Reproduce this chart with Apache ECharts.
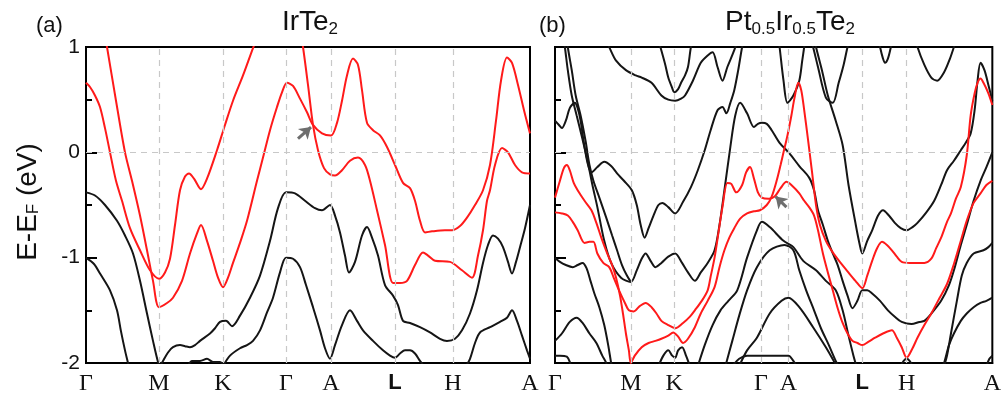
<!DOCTYPE html>
<html>
<head>
<meta charset="utf-8">
<script src="https://cdn.jsdelivr.net/npm/echarts@6/dist/echarts.min.js"></script>
<style>
  html, body { margin: 0; padding: 0; background: #fff; }
  #chart { width: 1004px; height: 401px; }
</style>
</head>
<body>
<div id="chart"></div>
<script>
// k-path positions (arbitrary path units) and labels
const kLabels = ["Γ", "M", "K", "Γ", "A", "L", "H", "A"];
const kPosA = [0, 73, 137, 200, 245, 309, 367, 444];
const kPosB = [0, 77, 121, 209, 237, 312, 357, 444];
const yTicks = [-2, -1, 0, 1];

// ---- (a) IrTe2 bands, [k, E-EF] ----
const irRed1 = [[0,0.66],[4,0.62],[9,0.54],[14,0.43],[19,0.23],[24,0.0],[30,-0.27],[36,-0.46],[44,-0.72],[54,-0.93],[64,-1.12],[73,-1.20],[79,-1.14],[84,-1.01],[89,-0.69],[94,-0.36],[99,-0.23],[103,-0.20],[108,-0.25],[115,-0.35],[121,-0.25],[131,0.02],[139,0.26],[147,0.49],[157,0.73],[167,0.99],[174,1.16]];
const irRed2 = [[18,1.16],[21,1.0],[30,0.49],[39,0.0],[46,-0.27],[54,-0.60],[61,-0.93],[67,-1.22],[73,-1.47],[81,-1.43],[87,-1.38],[96,-1.22],[104,-0.96],[111,-0.77],[115,-0.69],[121,-0.84],[127,-1.03],[132,-1.19],[137,-1.28],[142,-1.19],[147,-1.05],[154,-0.86],[161,-0.65],[171,-0.27],[177,-0.05],[184,0.21],[191,0.43],[196,0.57],[201,0.66],[207,0.63],[214,0.51],[221,0.38],[227,0.26],[236,0.18],[245,0.16],[251,0.28],[256,0.49],[261,0.73],[267,0.89],[272,0.83],[276,0.59],[281,0.28],[287,0.21],[294,0.16],[301,0.05],[309,-0.12],[317,-0.29],[324,-0.34],[329,-0.46],[334,-0.65],[339,-0.76],[346,-0.75],[359,-0.74],[366,-0.74],[374,-0.70],[381,-0.62],[389,-0.50],[397,-0.36],[404,-0.12],[410,0.30],[415,0.68],[421,0.90],[426,0.85],[432,0.64],[438,0.40],[444,0.18]];
const irRed3 = [[214,1.16],[217,1.0],[222,0.64],[227,0.26],[232,0.02],[238,-0.15],[244,-0.21],[249,-0.22],[256,-0.17],[264,-0.08],[272,-0.05],[279,-0.12],[284,-0.27],[291,-0.55],[299,-0.88],[307,-1.24],[314,-1.24],[321,-1.22],[329,-1.07],[337,-0.95],[342,-0.98],[349,-1.03],[364,-1.04],[376,-1.12],[386,-1.19],[392,-0.98],[397,-0.74],[401,-0.46],[404,-0.36],[409,-0.12],[416,0.04],[422,0.0],[429,-0.12],[436,-0.19],[444,-0.20]];
const irBlack1 = [[0,-0.38],[9,-0.41],[19,-0.50],[31,-0.65],[39,-0.79],[47,-0.96],[54,-1.22],[61,-1.53],[67,-1.79],[72,-1.99],[74,-2.03],[77,-1.98],[82,-1.90],[87,-1.85],[94,-1.83],[99,-1.84],[104,-1.85],[109,-1.83],[114,-1.79],[124,-1.72],[129,-1.67],[134,-1.61],[140,-1.60],[146,-1.65],[154,-1.55],[164,-1.38],[174,-1.17],[184,-0.84],[192,-0.53],[200,-0.38],[209,-0.39],[219,-0.46],[229,-0.53],[236,-0.55],[244,-0.50],[249,-0.60],[254,-0.76],[259,-0.98],[263,-1.14],[269,-1.04],[276,-0.79],[281,-0.71],[286,-0.81],[292,-0.98],[299,-1.26],[307,-1.36],[312,-1.45],[317,-1.60],[324,-1.62],[334,-1.66],[344,-1.71],[354,-1.77],[361,-1.79],[369,-1.77],[376,-1.69],[384,-1.53],[391,-1.31],[397,-1.05],[402,-0.88],[407,-0.79],[412,-0.82],[417,-0.90],[422,-1.04],[426,-1.15],[430,-1.04],[434,-0.90],[439,-0.72],[444,-0.50]];
const irBlack2 = [[0,-1.0],[8,-1.06],[14,-1.15],[24,-1.31],[31,-1.50],[35,-1.70],[39,-1.88],[42,-2.0],[44,-2.08]];
const irBlack3 = [[102,-2.03],[106,-1.98],[114,-1.98],[121,-1.96],[127,-1.99],[134,-1.99],[138,-2.03]];
const irBlack4 = [[137,-2.03],[144,-1.93],[154,-1.86],[161,-1.83],[167,-1.79],[174,-1.69],[181,-1.52],[187,-1.38],[194,-1.14],[200,-1.0],[207,-1.01],[214,-1.09],[220,-1.26],[227,-1.47],[234,-1.69],[239,-1.86],[244,-1.96],[249,-1.83],[256,-1.64],[264,-1.50],[271,-1.60],[277,-1.69],[287,-1.79],[297,-1.88],[304,-1.93],[309,-1.95],[314,-1.91],[319,-1.88],[324,-1.88],[329,-1.91],[334,-1.98],[338,-2.03]];
const irBlack5 = [[380,-2.03],[384,-1.96],[389,-1.81],[394,-1.71],[404,-1.66],[414,-1.61],[421,-1.57],[426,-1.50],[431,-1.60],[436,-1.74],[441,-1.88],[444,-1.96]];

// ---- (b) Pt0.5Ir0.5Te2 bands, [k, E-EF] ----
const ptRed1 = [[0,-0.57],[7,-0.58],[13,-0.60],[18,-0.66],[23,-0.74],[30,-0.86],[35,-0.85],[39,-0.85],[43,-0.96],[49,-1.05],[55,-1.09],[60,-1.20],[65,-1.31],[71,-1.43],[75,-1.50],[80,-1.51],[86,-1.46],[92,-1.43],[98,-1.47],[103,-1.53],[108,-1.60],[115,-1.64],[122,-1.67],[130,-1.62],[137,-1.56],[142,-1.50],[149,-1.41],[155,-1.31],[158,-1.18],[162,-1.0],[166,-0.76],[170,-0.52],[175,-0.29],[179,-0.30],[184,-0.38],[190,-0.31],[194,-0.19],[198,-0.14],[202,-0.25],[206,-0.38],[210,-0.43],[217,-0.44],[223,-0.42],[229,-0.34],[235,-0.28],[241,-0.32],[248,-0.39],[253,-0.46],[258,-0.52],[263,-0.60],[267,-0.74],[272,-0.96],[277,-1.14],[282,-1.31],[287,-1.48],[292,-1.62],[297,-1.72],[302,-1.79],[307,-1.81],[312,-1.83],[318,-1.80],[325,-1.76],[333,-1.72],[342,-1.69],[347,-1.76],[352,-1.85],[357,-1.95],[363,-1.86],[368,-1.76],[375,-1.64],[382,-1.53],[390,-1.39],[398,-1.25],[405,-1.06],[412,-0.84],[418,-0.65],[425,-0.48],[432,-0.39],[438,-0.31],[444,-0.27]];
const ptRed2 = [[0,-0.43],[5,-0.27],[9,-0.15],[12,-0.12],[15,-0.17],[19,-0.29],[23,-0.36],[30,-0.46],[37,-0.55],[42,-0.67],[47,-0.81],[53,-0.96],[58,-1.07],[62,-1.19],[66,-1.36],[69,-1.53],[72,-1.72],[75,-1.88],[77,-2.0],[81,-1.93],[88,-1.85],[95,-1.81],[102,-1.79],[108,-1.77],[115,-1.74],[120,-1.71],[125,-1.75],[130,-1.81],[135,-1.77],[142,-1.66],[148,-1.53],[155,-1.41],[162,-1.28],[167,-1.09],[172,-0.93],[177,-0.81],[182,-0.72],[188,-0.63],[195,-0.58],[202,-0.56],[208,-0.55],[215,-0.50],[220,-0.42],[225,-0.27],[229,-0.12],[232,0.0],[236,0.16],[240,0.35],[243,0.51],[247,0.66],[250,0.59],[253,0.40],[257,0.11],[261,-0.19],[265,-0.50],[269,-0.69],[275,-0.84],[282,-0.95],[290,-1.05],[297,-1.13],[305,-1.22],[312,-1.29],[317,-1.17],[322,-1.03],[327,-0.91],[332,-0.85],[337,-0.88],[342,-0.93],[347,-0.99],[352,-1.04],[360,-1.05],[367,-1.05],[375,-1.05],[382,-1.01],[387,-0.91],[392,-0.81],[398,-0.66],[402,-0.58],[407,-0.44],[412,-0.33],[418,-0.03],[422,0.35],[426,0.56],[429,0.66],[432,0.70],[435,0.66],[440,0.56],[444,0.45]];
const ptBlack1 = [[0,0.30],[4,0.26],[7,0.23],[11,0.30],[15,0.42],[20,0.47],[23,0.42],[26,0.30],[29,0.11],[33,-0.10],[37,-0.19],[43,-0.14],[50,-0.09],[57,-0.13],[63,-0.20],[70,-0.27],[78,-0.36],[83,-0.50],[87,-0.69],[91,-0.81],[95,-0.72],[100,-0.60],[105,-0.50],[109,-0.48],[115,-0.52],[122,-0.58],[130,-0.47],[138,-0.33],[145,-0.17],[152,0.02],[158,0.21],[165,0.40],[170,0.43],[174,0.37],[178,0.47],[182,0.59],[186,0.78],[190,1.0],[193,1.11]];
const ptBlack2 = [[8,1.11],[10,1.0],[13,0.78],[17,0.54],[22,0.35],[27,0.16],[33,-0.08],[38,-0.31],[43,-0.52],[50,-0.84],[57,-1.05],[67,-1.19],[77,-1.23],[83,-1.12],[88,-1.01],[92,-0.96],[97,-1.03],[102,-1.09],[108,-1.05],[115,-0.99],[122,-0.96],[129,-1.05],[135,-1.14],[142,-1.22],[148,-1.14],[155,-1.05],[162,-0.93],[167,-0.69],[172,-0.36],[178,0.05],[183,0.35],[188,0.47],[195,0.37],[202,0.24],[206,0.27],[210,0.28],[215,0.27],[220,0.21],[228,0.09],[238,-0.01],[248,-0.13],[258,-0.24],[263,-0.36],[267,-0.55],[272,-0.69],[277,-0.84],[282,-0.96],[287,-1.07],[292,-1.22],[297,-1.36],[302,-1.48],[307,-1.41],[312,-1.31],[317,-1.31],[322,-1.34],[330,-1.41],[338,-1.50],[345,-1.56],[352,-1.61],[362,-1.63],[370,-1.61],[375,-1.60],[383,-1.52],[392,-1.41],[400,-1.26],[405,-1.12],[412,-0.88],[418,-0.69],[425,-0.46],[432,-0.27],[438,-0.14],[444,0.0]];
const ptBlack3 = [[12,1.11],[13,1.0],[17,0.78],[21,0.54],[26,0.35],[31,0.11],[35,-0.12],[39,-0.27],[45,-0.43],[52,-0.62],[58,-0.79],[63,-0.93],[68,-1.07],[73,-1.17],[77,-1.23]];
const ptBlack4 = [[0,-1.0],[5,-1.04],[11,-1.07],[18,-1.09],[23,-1.07],[28,-1.05],[32,-1.10],[36,-1.22],[40,-1.34],[45,-1.47],[50,-1.64],[54,-1.83],[57,-2.0],[59,-2.09]];
const ptBlack5 = [[0,-1.79],[7,-1.72],[15,-1.61],[22,-1.57],[28,-1.62],[35,-1.72],[42,-1.81],[48,-1.93],[52,-2.0],[54,-2.07]];
const ptBlack6 = [[0,-1.93],[5,-1.93],[12,-1.94],[15,-1.99],[17,-2.07]];
const ptBlack7 = [[52,1.06],[55,1.0],[62,0.87],[72,0.78],[82,0.73],[88,0.71],[98,0.66],[108,0.54],[115,0.50],[122,0.49],[128,0.51],[132,0.54],[140,0.68],[148,0.85],[155,0.92],[160,0.95],[165,0.81],[170,0.68],[175,0.81],[182,0.97],[185,1.06]];
const ptBlack8 = [[105,1.06],[107,1.0],[112,0.83],[115,0.71],[119,0.61],[121,0.57],[125,0.60],[128,0.66],[132,0.73],[135,0.81],[138,1.0],[140,1.06]];
const ptBlack9 = [[105,-2.03],[110,-1.93],[115,-1.88],[119,-1.93],[122,-1.95],[125,-1.88],[129,-1.85],[133,-1.93],[137,-2.03]];
const ptBlack10 = [[173,-2.03],[180,-1.79],[187,-1.55],[195,-1.31],[205,-1.09],[218,-0.93],[233,-0.88],[242,-0.93],[248,-1.12],[255,-1.31],[263,-1.50],[270,-1.67],[278,-1.83],[285,-1.98],[288,-2.03]];
const ptBlack11 = [[145,-2.03],[152,-1.83],[160,-1.64],[168,-1.50],[176,-1.41],[185,-1.31],[195,-1.0],[205,-0.74],[210,-0.66],[218,-0.71],[232,-0.84],[242,-0.90],[252,-1.03],[265,-1.12],[275,-1.22],[285,-1.31],[292,-1.50],[298,-1.74],[303,-1.93],[306,-2.03]];
const ptBlack12 = [[187,-2.03],[195,-1.88],[205,-1.76],[218,-1.53],[230,-1.41],[237,-1.38],[248,-1.47],[262,-1.66],[275,-1.85],[283,-1.98],[286,-2.03]];
const ptBlack13 = [[180,-2.03],[187,-1.96],[195,-1.93],[215,-1.93],[237,-1.93],[242,-1.98],[245,-2.03]];
const ptBlack14 = [[227,1.06],[228,1.0],[232,0.68],[236,0.47],[242,0.54],[248,0.68],[251,0.87],[253,1.0],[254,1.06]];
const ptBlack15 = [[260,1.06],[262,1.0],[267,0.81],[275,0.52],[282,0.47],[288,0.66],[293,0.83],[297,1.0],[299,1.06]];
const ptBlack16 = [[264,1.06],[265,1.0],[271,0.78],[277,0.54],[285,0.30],[292,0.07],[298,-0.31],[305,-0.67],[309,-0.86],[312,-0.96],[317,-0.84],[322,-0.74],[328,-0.60],[333,-0.55],[339,-0.60],[345,-0.67],[351,-0.72],[357,-0.74],[363,-0.71],[368,-0.67],[377,-0.57],[385,-0.46],[392,-0.31],[398,-0.17],[405,-0.08],[412,0.02],[417,0.09],[422,0.18],[426,0.40],[429,0.68],[432,0.85],[436,0.78],[440,0.64],[444,0.49]];
const ptBlack17 = [[329,1.06],[330,1.0],[333,0.89],[335,0.85],[338,0.89],[341,1.0],[342,1.06]];
const ptBlack18 = [[367,1.06],[368,1.0],[375,0.83],[382,0.71],[388,0.68],[395,0.76],[401,0.89],[405,1.0],[407,1.06]];
const ptBlack19 = [[393,-2.03],[395,-2.0],[400,-1.83],[405,-1.72],[412,-1.60],[418,-1.53],[425,-1.47],[432,-1.43],[438,-1.41],[444,-1.38]];
const ptBlack20 = [[395,-2.03],[398,-1.93],[402,-1.72],[408,-1.41],[413,-1.17],[418,-1.05],[425,-0.96],[435,-0.93],[440,-0.90],[444,-0.86]];
const ptBlack21 = [[438,-2.03],[441,-1.96],[444,-1.93]];
const ptBlack22 = [[351,-2.03],[354,-1.98],[357,-1.96],[360,-1.98],[363,-2.03]];

// arrows pointing at band crossings: [tail, tip]
const arrowA = [[212, 0.13], [225, 0.24]];
const arrowB = [[235, -0.52], [224, -0.42]];

const irRed = [irRed1, irRed2, irRed3];
const irBlack = [irBlack1, irBlack2, irBlack3, irBlack4, irBlack5];
const ptRed = [ptRed1, ptRed2];
const ptBlack = [ptBlack1, ptBlack2, ptBlack3, ptBlack4, ptBlack5, ptBlack6, ptBlack7, ptBlack8, ptBlack9, ptBlack10, ptBlack11,
  ptBlack12, ptBlack13, ptBlack14, ptBlack15, ptBlack16, ptBlack17, ptBlack18, ptBlack19, ptBlack20, ptBlack21, ptBlack22];

const RED = "#ff1a1a";
const BLACK = "#151515";

const chart = echarts.init(document.getElementById("chart"));

function band(data, color, gi) {
  return {
    type: "line",
    xAxisIndex: gi,
    yAxisIndex: gi,
    data: data,
    smooth: 0.3,
    showSymbol: false,
    symbol: "none",
    silent: true,
    clip: true,
    z: color === RED ? 4 : 3,
    lineStyle: { color: color, width: 2 },
  };
}

// dashed guide lines at the high-symmetry points and at E_F, plus the arrow
function guides(gi, kPos, arrow) {
  const inner = kPos.slice(1, -1).map((v) => ({ xAxis: v }));
  return [
    {
      type: "line",
      xAxisIndex: gi,
      yAxisIndex: gi,
      data: [],
      z: 1,
      markLine: {
        silent: true,
        symbol: ["none", "none"],
        label: { show: false },
        lineStyle: { color: "#c8c8c8", type: [6, 5], width: 1.2 },
        data: inner.concat([{ yAxis: 0 }]),
      },
    },
    {
      type: "line",
      xAxisIndex: gi,
      yAxisIndex: gi,
      data: [],
      z: 6,
      markLine: {
        silent: true,
        symbol: ["none", "arrow"],
        symbolSize: [11, 11],
        label: { show: false },
        lineStyle: { color: "#6e6e6e", type: "solid", width: 3 },
        data: [[{ coord: arrow[0] }, { coord: arrow[1] }]],
      },
    },
  ];
}

function xAxis(gi, kPos) {
  return {
    gridIndex: gi,
    type: "value",
    min: 0,
    max: 444,
    axisLine: { show: true, onZero: false, lineStyle: { color: "#000", width: 2 } },
    axisTick: { show: false },
    splitLine: { show: false },
    axisLabel: {
      customValues: kPos,
      margin: 9,
      formatter: (v) => {
        const t = kLabels[kPos.indexOf(v)];
        return t === "L" ? "{l|L}" : "{g|" + t + "}";
      },
      rich: {
        g: { fontFamily: "Liberation Serif", fontSize: 24, color: "#111" },
        l: { fontFamily: "Liberation Sans", fontWeight: "bold", fontSize: 22, color: "#111" },
      },
    },
  };
}

function yAxis(gi, showLabels) {
  return {
    gridIndex: gi,
    type: "value",
    min: yTicks[0],
    max: yTicks[yTicks.length - 1],
    interval: 1,
    axisLine: { show: true, onZero: false, lineStyle: { color: "#000", width: 2 } },
    axisTick: { show: true, inside: true, length: 11, lineStyle: { color: "#000", width: 2 } },
    minorTick: { show: true, splitNumber: 2, length: 6, lineStyle: { color: "#000", width: 2 } },
    splitLine: { show: false },
    axisLabel: {
      show: showLabels,
      margin: 6,
      fontFamily: "Liberation Sans",
      fontSize: 21,
      color: "#111",
    },
  };
}

const series = []
  .concat(guides(0, kPosA, arrowA))
  .concat(guides(1, kPosB, arrowB))
  .concat(irBlack.map((d) => band(d, BLACK, 0)))
  .concat(irRed.map((d) => band(d, RED, 0)))
  .concat(ptBlack.map((d) => band(d, BLACK, 1)))
  .concat(ptRed.map((d) => band(d, RED, 1)));

const textSans = "Liberation Sans";
const titleRich = {
  m: { fontFamily: textSans, fontSize: 28, fill: "#111", verticalAlign: "bottom" },
  s: { fontFamily: textSans, fontSize: 17, fill: "#111", verticalAlign: "bottom", padding: [0, 0, -2, 0] },
};

const option = {
  backgroundColor: "#fff",
  animation: false,
  grid: [
    { left: 86, top: 47, width: 444, height: 316, show: true, borderColor: "#000", borderWidth: 2, backgroundColor: "transparent" },
    { left: 555, top: 47, width: 444, height: 316, show: true, borderColor: "#000", borderWidth: 2, backgroundColor: "transparent" },
  ],
  xAxis: [xAxis(0, kPosA), xAxis(1, kPosB)],
  yAxis: [yAxis(0, true), yAxis(1, false)],
  series: series,
  graphic: [
    {
      type: "text", x: 36, y: 26,
      style: { text: "(a)", font: "22px " + textSans, fill: "#111", verticalAlign: "middle" },
    },
    {
      type: "text", x: 539, y: 26,
      style: { text: "(b)", font: "22px " + textSans, fill: "#111", verticalAlign: "middle" },
    },
    {
      type: "text", x: 310, y: 22,
      style: { text: "{m|IrTe}{s|2}", align: "center", verticalAlign: "middle", rich: titleRich },
    },
    {
      type: "text", x: 790, y: 22,
      style: { text: "{m|Pt}{s|0.5}{m|Ir}{s|0.5}{m|Te}{s|2}", align: "center", verticalAlign: "middle", rich: titleRich },
    },
    {
      type: "text", x: 28, y: 202, rotation: Math.PI / 2,
      style: {
        text: "{e|E-E}{f|F}{e| (eV)}",
        align: "center", verticalAlign: "middle",
        rich: {
          e: { fontFamily: textSans, fontSize: 28, fill: "#111", verticalAlign: "bottom" },
          f: { fontFamily: textSans, fontSize: 17, fill: "#111", verticalAlign: "bottom" },
        },
      },
    },
  ],
};

chart.setOption(option);
</script>
</body>
</html>
